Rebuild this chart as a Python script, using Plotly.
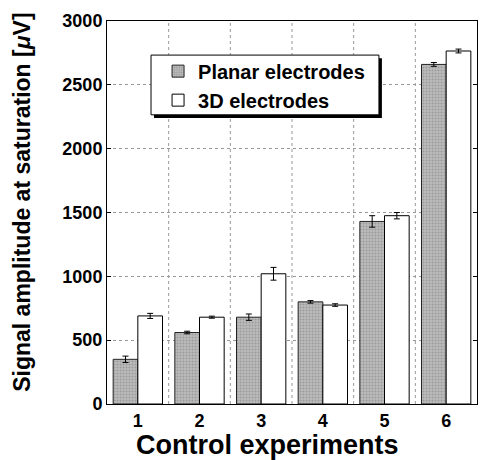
import plotly.graph_objects as go

categories = ["1", "2", "3", "4", "5", "6"]
planar = [350, 560, 680, 800, 1430, 2660]
planar_err = [25, 10, 25, 10, 45, 15]
d3 = [690, 680, 1020, 775, 1475, 2765]
d3_err = [20, 8, 50, 10, 25, 15]
y_ticks = [0, 500, 1000, 1500, 2000, 2500, 3000]
x_title = "Control experiments"
y_title = "Signal amplitude at saturation [<i>μ</i>V]"

FONT = "Liberation Sans, Arial, sans-serif"

fig = go.Figure()
fig.add_trace(go.Bar(
    x=categories, y=planar, name="Planar electrodes",
    marker=dict(color="#aaaaaa", line=dict(color="#222222", width=1),
                pattern=dict(shape=".", fgcolor="#777777", bgcolor="#bdbdbd", size=3, solidity=0.4)),
    error_y=dict(type="data", array=planar_err, color="black", thickness=1, width=3),
))
fig.add_trace(go.Bar(
    x=categories, y=d3, name="3D electrodes",
    marker=dict(color="white", line=dict(color="black", width=1)),
    error_y=dict(type="data", array=d3_err, color="black", thickness=1, width=3),
))

# legend frame with drop shadow (drawn as shapes, legend itself is transparent)
fig.add_shape(type="rect", xref="paper", yref="paper",
              x0=0.127, x1=0.743, y0=0.747, y1=0.903,
              fillcolor="black", line=dict(width=0), layer="above")
fig.add_shape(type="rect", xref="paper", yref="paper",
              x0=0.119, x1=0.735, y0=0.755, y1=0.911,
              fillcolor="white", line=dict(color="black", width=1), layer="above")

# axis titles
fig.add_annotation(text="<b>" + x_title + "</b>", xref="paper", yref="paper",
                   x=0.435, y=-0.108, xanchor="center", yanchor="middle",
                   showarrow=False, font=dict(size=27, family=FONT, color="black"))
fig.add_annotation(text="<b>" + y_title + "</b>", xref="paper", yref="paper",
                   x=-0.228, y=0.527, xanchor="center", yanchor="middle", textangle=-90,
                   showarrow=False, font=dict(size=23, family=FONT, color="black"))

fig.update_layout(
    width=484, height=460,
    margin=dict(l=107, r=7, t=21, b=56),
    paper_bgcolor="white", plot_bgcolor="white",
    barmode="group", bargap=0.2, bargroupgap=0,
    font=dict(family=FONT, color="black"),
    showlegend=True,
    legend=dict(x=0.138, y=0.920, xanchor="left", yanchor="top",
                bgcolor="rgba(0,0,0,0)", borderwidth=0,
                font=dict(size=20, family=FONT, weight="bold"),
                tracegroupgap=0, itemwidth=30),
    xaxis=dict(
        tickfont=dict(size=18, weight="bold"),
        showline=True, linecolor="black", mirror=True, linewidth=1,
        showgrid=False, ticks="", range=[-0.5, 5.5], automargin=False,
    ),
    yaxis=dict(
        tickfont=dict(size=18, weight="bold"),
        tickvals=y_ticks, range=[0, 3000],
        showline=True, linecolor="black", mirror="ticks", linewidth=1,
        ticks="inside", ticklen=4, tickcolor="black",
        showgrid=True, gridcolor="#999999", griddash="dot", gridwidth=1,
        zeroline=False, automargin=False,
    ),
)

# vertical dotted grid lines between categories
for i in range(1, 6):
    fig.add_shape(type="line", xref="x", yref="paper", x0=i - 0.5, x1=i - 0.5, y0=0, y1=1,
                  line=dict(color="#999999", width=1, dash="dot"), layer="below")

fig.write_html("out.html")
